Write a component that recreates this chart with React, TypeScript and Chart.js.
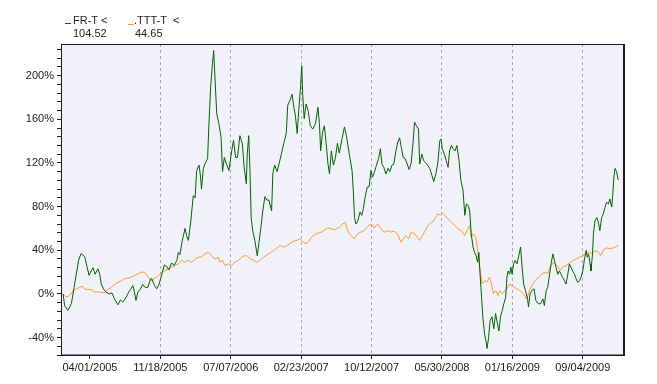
import React, { useEffect, useRef } from "react";
import { Chart, registerables } from "chart.js";

Chart.register(...registerables);

// x values are days counted from 12/27/2004
const frtDays = [
  7, 12, 23, 34, 43, 50, 58, 66, 78, 86, 92, 99, 105, 112, 121, 127, 132, 141, 148, 159,
  167, 176, 187, 195, 203, 214, 222, 228, 236, 241, 246, 252, 261, 268, 276, 285, 294, 298, 307, 314,
  322, 331, 339, 347, 354, 363, 371, 380, 385, 390, 398, 407, 412, 418, 426, 434, 440, 445, 453, 458,
  461, 467, 472, 481, 485, 491, 497, 501, 505, 511, 518, 525, 530, 536, 543, 551, 560, 566, 573, 579,
  587, 595, 601, 608, 611, 616, 620, 624, 629, 636, 644, 649, 656, 662, 669, 675, 682, 691, 695, 701,
  709, 717, 723, 731, 739, 744, 751, 758, 764, 769, 775, 780, 786, 790, 793, 798, 804, 811, 818, 826,
  835, 843, 848, 852, 858, 864, 870, 876, 881, 887, 894, 900, 907, 913, 922, 930, 937, 946, 955, 959,
  963, 968, 974, 981, 987, 992, 998, 1005, 1011, 1017, 1022, 1029, 1035, 1042, 1048, 1053, 1059, 1066, 1073, 1079,
  1086, 1092, 1099, 1105, 1111, 1116, 1123, 1129, 1136, 1142, 1149, 1155, 1160, 1166, 1173, 1177, 1184, 1190, 1197, 1203,
  1210, 1217, 1223, 1230, 1236, 1243, 1247, 1251, 1258, 1264, 1270, 1275, 1281, 1286, 1293, 1299, 1306, 1312, 1319, 1325,
  1330, 1336, 1341, 1346, 1352, 1357, 1362, 1367, 1371, 1375, 1380, 1384, 1390, 1395, 1398, 1403, 1408, 1414, 1420, 1426,
  1431, 1437, 1442, 1448, 1453, 1459, 1463, 1467, 1472, 1476, 1480, 1485, 1490, 1496, 1501, 1508, 1512, 1518, 1524, 1531,
  1534, 1539, 1545, 1552, 1558, 1566, 1574, 1581, 1586, 1592, 1597, 1603, 1608, 1614, 1619, 1624, 1630, 1635, 1641, 1646,
  1652, 1657, 1663, 1668, 1673, 1679, 1685, 1690, 1695, 1701, 1706, 1712, 1717, 1723, 1727, 1731, 1736, 1739, 1744, 1747,
  1752, 1758, 1763, 1768, 1774, 1779, 1785, 1790, 1796, 1801, 1807, 1810, 1814, 1818, 1823, 1828,
];
const frtValues = [
  0, -11, -15, -9, 6, 18, 31, 37, 34, 24, 17, 21, 24, 18, 23, 18, 9, 4, 1.5, 0,
  1, -5, -10, -5.5, -7.6, -3, 1.5, 4, 7.6, 1.5, -6, 1.5, 4.6, 8.6, 6, 6, 13.8, 13.8, 7.6, 4.6,
  9, 18, 26.6, 25, 22, 28.4, 26, 30.6, 38, 36, 49, 60, 53.5, 49, 67, 90, 88, 113, 118, 107,
  96, 115, 119, 124, 153, 190, 211, 223, 199, 165, 156, 144, 112, 125, 119, 113, 131, 140.6, 125, 125,
  145, 137.6, 116, 101, 128, 145, 113, 70, 58, 49, 35, 46, 61, 76, 89, 86, 86, 76, 110, 118,
  112, 121, 128, 138, 147, 173, 177, 183, 171, 163.6, 147, 168, 190, 209, 183, 160.5, 174, 168, 154, 151,
  156, 171, 156, 131, 148, 154, 138, 119, 110, 131, 118, 124, 138, 129, 142, 153, 144, 128, 113, 95,
  70, 64, 67, 75, 72, 78, 89, 98, 98, 113, 107, 112, 118, 124, 133, 119, 116, 110, 115, 112,
  118, 119, 131, 139, 143, 135, 125, 124, 119, 114, 120, 138, 157.5, 154, 151, 119, 128, 122, 120, 118,
  115, 108.5, 103, 110, 119, 140.6, 142, 133, 128, 122, 116, 131, 136, 133, 131, 136, 122, 104, 95, 72,
  82.5, 81, 76, 55, 43, 38, 35, 29, 38, 18, -3, -21, -37, -44, -50, -40, -24.5, -21, -32, -18,
  -26, -34, -21, -15, -9, -3, 15, 21, 18, 24.5, 18, 27.5, 30.6, 27.5, 33.6, 43, 27.5, 9, 3, -5,
  -12, 0, 3, 4.6, -6, -9, -9, -4.6, -10.7, 3, 6, 18, 27.5, 36.7, 30.6, 24.5, 18, 21, 18, 15,
  12, 9, 18, 27.5, 24.5, 21, 18, 13.8, 10.7, 12, 15, 21, 30.6, 39.8, 33.6, 36.7, 27.5, 21, 36.7, 55,
  67, 70, 66, 58, 70, 73, 79.5, 84, 82.5, 87, 79.5, 89, 107, 115, 112, 104.52,
];

const tttDays = [
  7, 17, 28, 39, 50, 61, 69, 78, 88, 99, 110, 121, 132, 143, 154, 165, 176, 187, 197, 208,
  219, 230, 241, 252, 263, 272, 279, 287, 296, 304, 320, 331, 341, 353, 363, 374, 385, 396, 407, 418,
  429, 440, 451, 461, 472, 483, 494, 505, 516, 521, 529, 538, 549, 560, 570, 582, 592, 603, 612, 622,
  633, 644, 654, 665, 676, 687, 698, 709, 720, 731, 742, 753, 763, 775, 782, 789, 796, 804, 813, 822,
  832, 843, 854, 865, 876, 887, 898, 909, 913, 924, 933, 940, 951, 962, 973, 984, 995, 1006, 1017, 1028,
  1039, 1050, 1060, 1071, 1082, 1093, 1104, 1115, 1123, 1131, 1140, 1149, 1159, 1169, 1177, 1186, 1195, 1204, 1213, 1221,
  1230, 1237, 1245, 1251, 1259, 1270, 1281, 1292, 1303, 1313, 1325, 1335, 1341, 1346, 1352, 1361, 1366, 1371, 1377, 1382,
  1390, 1397, 1406, 1411, 1419, 1426, 1434, 1439, 1448, 1456, 1463, 1472, 1480, 1488, 1496, 1505, 1512, 1521, 1528, 1537,
  1545, 1556, 1567, 1578, 1589, 1596, 1605, 1616, 1627, 1638, 1646, 1657, 1668, 1679, 1690, 1701, 1712, 1723, 1734, 1742,
  1752, 1763, 1771, 1780, 1790, 1801, 1812, 1820, 1828,
];
const tttValues = [
  0, -3, -1.5, 2.5, 4.6, 6, 7, 4.6, 4, 4, 1.5, 2, 1, 1.5, 4, 6, 8.6, 10.7, 11.6, 13.8,
  14.4, 15.3, 16.8, 18.3, 19.9, 19.9, 18.3, 15.3, 12.2, 13.8, 16.8, 19.9, 21.4, 22.9, 24.5, 26, 27.5, 30.6, 29, 31,
  29, 32, 33.6, 34, 36.7, 38, 35, 32, 33.6, 29, 31, 26, 27.5, 26, 29, 30.6, 33.6, 35, 34.5, 32,
  30.6, 29, 31, 33.6, 35.8, 37.6, 39.8, 42.2, 44.4, 42.8, 44.4, 46.5, 48.3, 49, 50.4, 49, 47.4, 45.9, 48.3, 52,
  54.4, 55.6, 56.6, 58.7, 60.5, 59.6, 58.7, 60.5, 61, 64, 65.7, 58, 53.5, 50.4, 55, 56.6, 58, 61.8, 64, 60.5,
  64, 59.6, 56.6, 58, 56.6, 57.5, 55, 47.4, 50.4, 53.5, 50.4, 56.6, 55, 52, 49, 53.5, 58, 62.7, 64.8, 66.5,
  70.3, 73.4, 72, 74, 72, 68.8, 65.7, 62.7, 59.6, 58, 53.5, 59.6, 62.7, 52, 55, 52, 42.8, 30.6, 18.3, 9.2,
  12.2, 10.7, 15.3, 10.7, 0, 3, -1.5, 3, 0, 3, 4.6, 9.2, 7.6, 6, 4.6, 3, 1.5, -1.5, -5, 3,
  7.6, 12.2, 15.3, 18.3, 19.9, 18.3, 24.5, 29, 26, 21.4, 24.5, 26, 28, 30.6, 32, 33.6, 35, 36.7, 38.2, 36.7,
  39.8, 38.2, 35, 40.4, 42.2, 41.3, 42.2, 43, 44.65,
];

const xTickDays = [95, 326, 557, 788, 1019, 1250, 1481, 1712];
const xTickLabels = [
  "04/01/2005", "11/18/2005", "07/07/2006", "02/23/2007",
  "10/12/2007", "05/30/2008", "01/16/2009", "09/04/2009",
];
const yMajorStep = 40;
const yMinorStep = 8;

const seriesNames = ["FR-T", ".TTT-T"];
const seriesLast = ["104.52", "44.65"];
const seriesColors = ["#006400", "#FF9933"];

const FONT = '"Liberation Sans", Arial, sans-serif';

const framePlugin = {
  id: "frame",
  beforeDraw(chart: any) {
    const { ctx, chartArea } = chart;
    const { left, top, right, bottom } = chartArea;
    ctx.save();
    ctx.fillStyle = "#F1F1FA";
    ctx.fillRect(left, top, right - left, bottom - top);
    ctx.restore();
  },
  afterDatasetsDraw(chart: any) {
    const { ctx, chartArea } = chart;
    const { left, top, right, bottom } = chartArea;
    ctx.save();
    ctx.strokeStyle = "#1a1a1a";
    ctx.lineWidth = 1;
    ctx.beginPath();
    ctx.moveTo(left + 0.5, top);
    ctx.lineTo(left + 0.5, bottom);
    ctx.moveTo(left, top + 0.5);
    ctx.lineTo(right, top + 0.5);
    ctx.stroke();
    ctx.lineWidth = 1.5;
    ctx.beginPath();
    ctx.moveTo(left, bottom + 0.25);
    ctx.lineTo(right + 2, bottom + 0.25);
    ctx.stroke();
    ctx.lineWidth = 2;
    ctx.beginPath();
    ctx.moveTo(right + 1, top);
    ctx.lineTo(right + 1, bottom + 1);
    ctx.stroke();
    ctx.restore();
  },
};

export default function App() {
  const canvasRef = useRef<HTMLCanvasElement | null>(null);

  useEffect(() => {
    const canvas = canvasRef.current;
    if (!canvas) return;
    const chart = new Chart(canvas, {
      type: "line",
      data: {
        datasets: [
          {
            label: seriesNames[0],
            data: frtDays.map((d, i) => ({ x: d, y: frtValues[i] })),
            borderColor: seriesColors[0],
            borderWidth: 1,
            pointRadius: 0,
            tension: 0,
          },
          {
            label: seriesNames[1],
            data: tttDays.map((d, i) => ({ x: d, y: tttValues[i] })),
            borderColor: seriesColors[1],
            borderWidth: 1,
            pointRadius: 0,
            tension: 0,
          },
        ],
      },
      options: {
        animation: false,
        responsive: false,
        devicePixelRatio: 1,
        layout: { padding: { top: 44, right: 34, left: 0, bottom: 0 } },
        plugins: { legend: { display: false }, tooltip: { enabled: false } },
        scales: {
          x: {
            type: "linear",
            min: 0,
            max: 1844,
            afterBuildTicks: (scale: any) => {
              scale.ticks = xTickDays.map((v) => ({ value: v }));
            },
            afterFit: (scale: any) => {
              scale.height = 29;
            },
            ticks: {
              autoSkip: false,
              maxRotation: 0,
              minRotation: 0,
              padding: 2,
              color: "#222",
              font: { family: FONT, size: 11 },
              callback: (_v: any, i: number) => xTickLabels[i],
            },
            grid: {
              drawOnChartArea: true,
              color: (c: any) => (c.index === 0 ? "rgba(0,0,0,0)" : "#A9A9B4"),
              tickColor: "#222",
              tickLength: 4,
              lineWidth: 1,
            },
            border: { display: false, dash: [3, 3] },
          },
          y: {
            type: "linear",
            min: -56,
            max: 229,
            afterFit: (scale: any) => {
              scale.width = 61;
            },
            ticks: {
              stepSize: yMinorStep,
              includeBounds: false,
              autoSkip: false,
              padding: 3,
              color: "#222",
              font: { family: FONT, size: 11 },
              callback: (v: any) => {
                const n = Math.round(Number(v));
                return n % yMajorStep === 0 ? `${n}%` : "";
              },
            },
            grid: {
              drawOnChartArea: false,
              tickColor: "#222",
              tickLength: 4,
            },
            border: { display: false },
          },
        },
      },
      plugins: [framePlugin],
    } as any);
    return () => chart.destroy();
  }, []);

  const textStyle: React.CSSProperties = {
    position: "absolute",
    fontFamily: FONT,
    fontSize: 11,
    lineHeight: "13px",
    color: "#222",
    whiteSpace: "pre",
  };

  return (
    <div style={{ position: "absolute", left: 0, top: 0, width: 657, height: 384, background: "#fff" }}>
      <canvas ref={canvasRef} width={657} height={384} style={{ position: "absolute", left: 0, top: 0, width: 657, height: 384 }} />
      <div style={{ position: "absolute", left: 65, top: 23, width: 6, height: 1, background: seriesColors[0] }} />
      <div style={{ ...textStyle, left: 73, top: 14 }}>{seriesNames[0] + " <"}</div>
      <div style={{ ...textStyle, left: 73, top: 27 }}>{seriesLast[0]}</div>
      <div style={{ position: "absolute", left: 128, top: 24, width: 6, height: 1, background: seriesColors[1] }} />
      <div style={{ ...textStyle, left: 134, top: 14 }}>{seriesNames[1] + "  <"}</div>
      <div style={{ ...textStyle, left: 135, top: 27 }}>{seriesLast[1]}</div>
    </div>
  );
}
